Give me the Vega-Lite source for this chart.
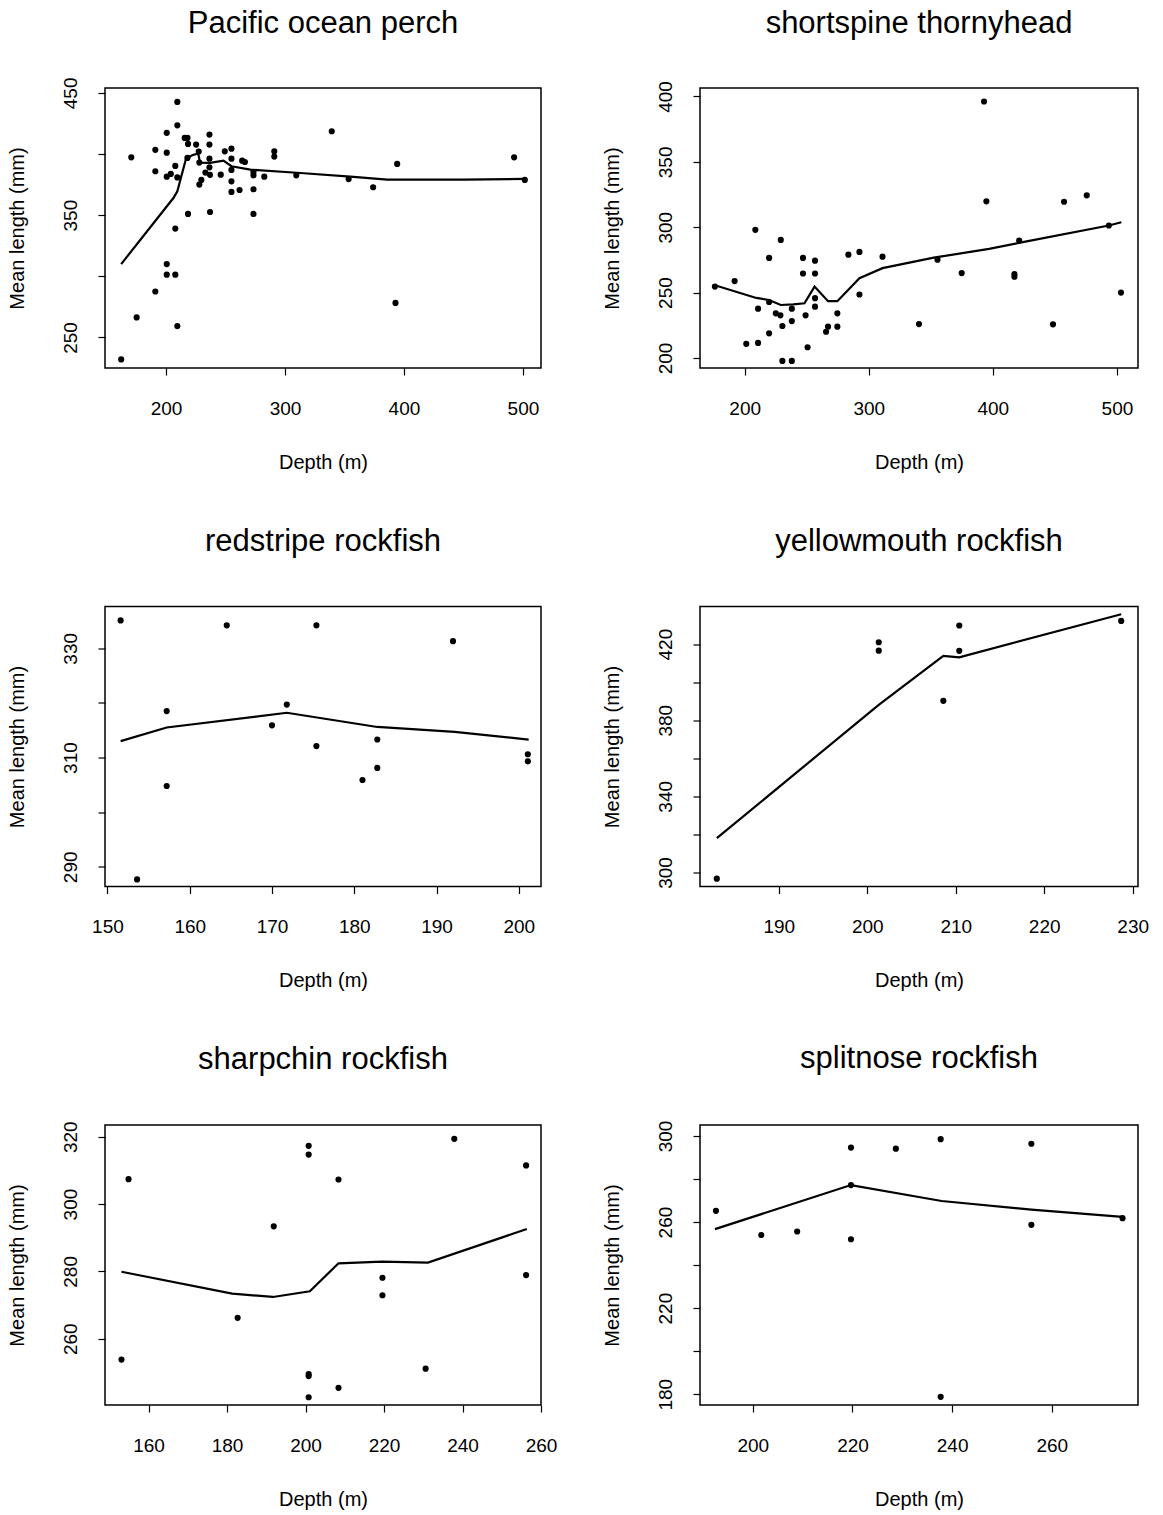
{
  "$schema": "https://vega.github.io/schema/vega-lite/v6.json",
  "background": "white",
  "padding": {"left": 6, "top": 6, "right": 5, "bottom": 5},
  "bounds": "flush",
  "columns": 2,
  "spacing": {"row": 238.5, "column": 159},
  "datasets": {
    "pts": [
      {"s": "POP", "d": 209.5, "L": 442.6}, {"s": "POP", "d": 209.5, "L": 423.5}, {"s": "POP", "d": 200.6, "L": 417.3},
      {"s": "POP", "d": 236.5, "L": 415.9}, {"s": "POP", "d": 215.7, "L": 413.2}, {"s": "POP", "d": 218, "L": 413.2},
      {"s": "POP", "d": 339.3, "L": 418.6}, {"s": "POP", "d": 170.8, "L": 397.3}, {"s": "POP", "d": 191, "L": 403.4},
      {"s": "POP", "d": 200.6, "L": 401.1}, {"s": "POP", "d": 218.5, "L": 408.3}, {"s": "POP", "d": 225.3, "L": 407.7},
      {"s": "POP", "d": 227.5, "L": 402}, {"s": "POP", "d": 236.5, "L": 407.7}, {"s": "POP", "d": 228, "L": 393},
      {"s": "POP", "d": 236.5, "L": 396.2}, {"s": "POP", "d": 249.4, "L": 402.2}, {"s": "POP", "d": 255, "L": 404.4},
      {"s": "POP", "d": 255, "L": 396.2}, {"s": "POP", "d": 264, "L": 394.6}, {"s": "POP", "d": 266.3, "L": 393.5},
      {"s": "POP", "d": 207.8, "L": 390.3}, {"s": "POP", "d": 191, "L": 385.9}, {"s": "POP", "d": 200.6, "L": 381.5},
      {"s": "POP", "d": 204, "L": 383.7}, {"s": "POP", "d": 209.5, "L": 380.9}, {"s": "POP", "d": 218, "L": 396.8},
      {"s": "POP", "d": 236.5, "L": 389.1}, {"s": "POP", "d": 233.1, "L": 384.8}, {"s": "POP", "d": 237, "L": 383},
      {"s": "POP", "d": 246, "L": 383.1}, {"s": "POP", "d": 228, "L": 375}, {"s": "POP", "d": 229.7, "L": 378.8},
      {"s": "POP", "d": 255, "L": 387}, {"s": "POP", "d": 255, "L": 377.7}, {"s": "POP", "d": 255, "L": 369},
      {"s": "POP", "d": 261.8, "L": 370.6}, {"s": "POP", "d": 273.5, "L": 385.3}, {"s": "POP", "d": 273.5, "L": 382.6},
      {"s": "POP", "d": 273.5, "L": 371.2}, {"s": "POP", "d": 282.6, "L": 381.5}, {"s": "POP", "d": 291, "L": 402.2},
      {"s": "POP", "d": 291, "L": 397.9}, {"s": "POP", "d": 309.5, "L": 382.6}, {"s": "POP", "d": 353.5, "L": 379.5},
      {"s": "POP", "d": 218.5, "L": 351}, {"s": "POP", "d": 237, "L": 352.6}, {"s": "POP", "d": 273.5, "L": 351},
      {"s": "POP", "d": 207.8, "L": 339}, {"s": "POP", "d": 200.6, "L": 310}, {"s": "POP", "d": 200.6, "L": 301.3},
      {"s": "POP", "d": 207.8, "L": 301.3}, {"s": "POP", "d": 191, "L": 287.6}, {"s": "POP", "d": 175.3, "L": 266.4},
      {"s": "POP", "d": 209.5, "L": 259.3}, {"s": "POP", "d": 162.3, "L": 232}, {"s": "POP", "d": 374.1, "L": 372.8},
      {"s": "POP", "d": 394.3, "L": 391.9}, {"s": "POP", "d": 392.9, "L": 278.2}, {"s": "POP", "d": 492.6, "L": 397.3},
      {"s": "POP", "d": 501.6, "L": 378.8},

      {"s": "SST", "d": 176, "L": 254.6}, {"s": "SST", "d": 191.9, "L": 258.8}, {"s": "SST", "d": 208.6, "L": 298},
      {"s": "SST", "d": 229.1, "L": 290.3}, {"s": "SST", "d": 219.7, "L": 276.5}, {"s": "SST", "d": 247, "L": 276.5},
      {"s": "SST", "d": 256.7, "L": 274.4}, {"s": "SST", "d": 247, "L": 264.6}, {"s": "SST", "d": 256.7, "L": 264.6},
      {"s": "SST", "d": 283.6, "L": 279}, {"s": "SST", "d": 292.5, "L": 281.1}, {"s": "SST", "d": 311.1, "L": 277.5},
      {"s": "SST", "d": 292.5, "L": 248.5}, {"s": "SST", "d": 219.7, "L": 242.8}, {"s": "SST", "d": 256.7, "L": 245.7},
      {"s": "SST", "d": 256.7, "L": 239.2}, {"s": "SST", "d": 210.8, "L": 237.7}, {"s": "SST", "d": 238, "L": 237.7},
      {"s": "SST", "d": 225.1, "L": 234.1}, {"s": "SST", "d": 228.8, "L": 232.6}, {"s": "SST", "d": 249.1, "L": 232.6},
      {"s": "SST", "d": 274.7, "L": 234.1}, {"s": "SST", "d": 238, "L": 228.2}, {"s": "SST", "d": 230.4, "L": 224.4},
      {"s": "SST", "d": 274.7, "L": 223.9}, {"s": "SST", "d": 267.2, "L": 223.9}, {"s": "SST", "d": 265.6, "L": 220},
      {"s": "SST", "d": 219.7, "L": 218.8}, {"s": "SST", "d": 201.3, "L": 210.8}, {"s": "SST", "d": 210.8, "L": 211.5},
      {"s": "SST", "d": 250.7, "L": 208.2}, {"s": "SST", "d": 230.4, "L": 197.7}, {"s": "SST", "d": 238, "L": 197.7},
      {"s": "SST", "d": 340.5, "L": 225.9}, {"s": "SST", "d": 392.9, "L": 396.2}, {"s": "SST", "d": 394.8, "L": 319.8},
      {"s": "SST", "d": 457.4, "L": 319.5}, {"s": "SST", "d": 475.7, "L": 324.4}, {"s": "SST", "d": 493.5, "L": 301.3},
      {"s": "SST", "d": 421.2, "L": 289.8}, {"s": "SST", "d": 355.4, "L": 275.2}, {"s": "SST", "d": 374.9, "L": 264.9},
      {"s": "SST", "d": 417.4, "L": 264.1}, {"s": "SST", "d": 417.4, "L": 262.1}, {"s": "SST", "d": 503.3, "L": 250},
      {"s": "SST", "d": 448.5, "L": 225.7},

      {"s": "RS", "d": 151.6, "L": 335.1}, {"s": "RS", "d": 153.6, "L": 287.7}, {"s": "RS", "d": 157.2, "L": 318.5},
      {"s": "RS", "d": 157.2, "L": 304.8}, {"s": "RS", "d": 164.5, "L": 334.2}, {"s": "RS", "d": 170, "L": 315.9},
      {"s": "RS", "d": 171.8, "L": 319.7}, {"s": "RS", "d": 175.4, "L": 334.2}, {"s": "RS", "d": 175.4, "L": 312.1},
      {"s": "RS", "d": 181, "L": 305.9}, {"s": "RS", "d": 182.8, "L": 313.3}, {"s": "RS", "d": 182.8, "L": 308.1},
      {"s": "RS", "d": 192, "L": 331.3}, {"s": "RS", "d": 201.1, "L": 310.6}, {"s": "RS", "d": 201.1, "L": 309.3},

      {"s": "YM", "d": 183, "L": 296.7}, {"s": "YM", "d": 201.3, "L": 421}, {"s": "YM", "d": 201.3, "L": 416.6},
      {"s": "YM", "d": 208.6, "L": 390.2}, {"s": "YM", "d": 210.4, "L": 429.8}, {"s": "YM", "d": 210.4, "L": 416.5},
      {"s": "YM", "d": 228.7, "L": 432.2},

      {"s": "SC", "d": 153.1, "L": 253.8}, {"s": "SC", "d": 154.9, "L": 307.4}, {"s": "SC", "d": 182.7, "L": 266.2},
      {"s": "SC", "d": 191.9, "L": 293.4}, {"s": "SC", "d": 200.8, "L": 317.3}, {"s": "SC", "d": 200.8, "L": 314.7},
      {"s": "SC", "d": 200.8, "L": 249.5}, {"s": "SC", "d": 200.8, "L": 248.9}, {"s": "SC", "d": 200.8, "L": 242.6},
      {"s": "SC", "d": 208.4, "L": 307.3}, {"s": "SC", "d": 208.4, "L": 245.4}, {"s": "SC", "d": 219.6, "L": 278.1},
      {"s": "SC", "d": 219.6, "L": 272.9}, {"s": "SC", "d": 230.6, "L": 251.1}, {"s": "SC", "d": 237.9, "L": 319.4},
      {"s": "SC", "d": 256.2, "L": 311.5}, {"s": "SC", "d": 256.2, "L": 278.9},

      {"s": "SN", "d": 192.6, "L": 265.2}, {"s": "SN", "d": 201.7, "L": 254}, {"s": "SN", "d": 208.9, "L": 255.6},
      {"s": "SN", "d": 219.7, "L": 294.6}, {"s": "SN", "d": 219.7, "L": 252}, {"s": "SN", "d": 219.7, "L": 277.2},
      {"s": "SN", "d": 228.7, "L": 294.1}, {"s": "SN", "d": 237.7, "L": 298.5}, {"s": "SN", "d": 237.7, "L": 178.8},
      {"s": "SN", "d": 255.9, "L": 296.4}, {"s": "SN", "d": 255.9, "L": 258.7}, {"s": "SN", "d": 274.2, "L": 261.8}
    ],
    "fit": [
      {"s": "POP", "d": 162.3, "L": 310}, {"s": "POP", "d": 206.2, "L": 364}, {"s": "POP", "d": 209.5, "L": 369.5},
      {"s": "POP", "d": 216.8, "L": 396.2}, {"s": "POP", "d": 222, "L": 399}, {"s": "POP", "d": 227, "L": 400.5},
      {"s": "POP", "d": 228.6, "L": 393}, {"s": "POP", "d": 237, "L": 392.7}, {"s": "POP", "d": 248.3, "L": 394.6},
      {"s": "POP", "d": 255, "L": 390}, {"s": "POP", "d": 270.8, "L": 387.2}, {"s": "POP", "d": 312.9, "L": 384.5},
      {"s": "POP", "d": 355, "L": 381.5}, {"s": "POP", "d": 385.9, "L": 379}, {"s": "POP", "d": 450, "L": 379},
      {"s": "POP", "d": 501.6, "L": 379.6},

      {"s": "SST", "d": 176, "L": 255.6}, {"s": "SST", "d": 209.4, "L": 245.9}, {"s": "SST", "d": 219.7, "L": 244.3},
      {"s": "SST", "d": 229.1, "L": 240.5}, {"s": "SST", "d": 239.1, "L": 241}, {"s": "SST", "d": 248.2, "L": 241.8},
      {"s": "SST", "d": 256.3, "L": 254.6}, {"s": "SST", "d": 267.2, "L": 243.4}, {"s": "SST", "d": 274.7, "L": 243.4},
      {"s": "SST", "d": 292.5, "L": 261}, {"s": "SST", "d": 311.1, "L": 268.7}, {"s": "SST", "d": 352.4, "L": 276.7},
      {"s": "SST", "d": 397, "L": 283.4}, {"s": "SST", "d": 421, "L": 288}, {"s": "SST", "d": 493.5, "L": 301.3},
      {"s": "SST", "d": 503.6, "L": 303.8},

      {"s": "RS", "d": 151.6, "L": 313}, {"s": "RS", "d": 157.2, "L": 315.5}, {"s": "RS", "d": 171.8, "L": 318.2},
      {"s": "RS", "d": 182.8, "L": 315.6}, {"s": "RS", "d": 192.2, "L": 314.7}, {"s": "RS", "d": 201.2, "L": 313.3},

      {"s": "YM", "d": 183, "L": 318}, {"s": "YM", "d": 201.3, "L": 388.1}, {"s": "YM", "d": 208.6, "L": 413.8},
      {"s": "YM", "d": 210.4, "L": 413.1}, {"s": "YM", "d": 228.7, "L": 435.7},

      {"s": "SC", "d": 153.1, "L": 279.9}, {"s": "SC", "d": 181.3, "L": 273.4}, {"s": "SC", "d": 191.7, "L": 272.4},
      {"s": "SC", "d": 201.1, "L": 274.1}, {"s": "SC", "d": 208.4, "L": 282.4}, {"s": "SC", "d": 219.5, "L": 282.9},
      {"s": "SC", "d": 231.2, "L": 282.6}, {"s": "SC", "d": 256.4, "L": 292.6},

      {"s": "SN", "d": 192.4, "L": 256.7}, {"s": "SN", "d": 219.7, "L": 277.2}, {"s": "SN", "d": 237.9, "L": 269.8},
      {"s": "SN", "d": 255.9, "L": 265.8}, {"s": "SN", "d": 274.2, "L": 262.4}
    ]
  },
  "concat": [
    {
      "title": {"text": "Pacific ocean perch", "offset": 37},
      "width": 436, "height": 280,
      "encoding": {
        "x": {"field": "d", "type": "quantitative", "scale": {"domain": [148.7, 515.2], "nice": false, "zero": false}, "axis": {"title": "Depth (m)", "values": [200, 300, 400, 500]}},
        "y": {"field": "L", "type": "quantitative", "scale": {"domain": [225, 454], "nice": false, "zero": false}, "axis": {"title": "Mean length (mm)", "values": [250, 300, 350, 400, 450], "labelExpr": "datum.value % 100 == 50 ? datum.label : ''"}}
      },
      "layer": [
        {"data": {"name": "pts"}, "transform": [{"filter": "datum.s == 'POP'"}], "mark": {"type": "circle", "size": 38, "color": "black", "opacity": 1}},
        {"data": {"name": "fit"}, "transform": [{"filter": "datum.s == 'POP'"}], "mark": {"type": "line", "color": "black", "strokeWidth": 2.2}}
      ]
    },
    {
      "title": {"text": "shortspine thornyhead", "offset": 41},
      "width": 438, "height": 280,
      "encoding": {
        "x": {"field": "d", "type": "quantitative", "scale": {"domain": [164, 517], "nice": false, "zero": false}, "axis": {"title": "Depth (m)", "values": [200, 300, 400, 500]}},
        "y": {"field": "L", "type": "quantitative", "scale": {"domain": [192.3, 406.5], "nice": false, "zero": false}, "axis": {"title": "Mean length (mm)", "values": [200, 250, 300, 350, 400]}}
      },
      "layer": [
        {"data": {"name": "pts"}, "transform": [{"filter": "datum.s == 'SST'"}], "mark": {"type": "circle", "size": 38, "color": "black", "opacity": 1}},
        {"data": {"name": "fit"}, "transform": [{"filter": "datum.s == 'SST'"}], "mark": {"type": "line", "color": "black", "strokeWidth": 2.2}}
      ]
    },
    {
      "title": {"text": "redstripe rockfish", "offset": 49},
      "width": 436, "height": 280,
      "encoding": {
        "x": {"field": "d", "type": "quantitative", "scale": {"domain": [149.7, 202.7], "nice": false, "zero": false}, "axis": {"title": "Depth (m)", "values": [150, 160, 170, 180, 190, 200]}},
        "y": {"field": "L", "type": "quantitative", "scale": {"domain": [286.4, 337.65], "nice": false, "zero": false}, "axis": {"title": "Mean length (mm)", "values": [290, 300, 310, 320, 330], "labelExpr": "datum.value % 20 == 10 ? datum.label : ''"}}
      },
      "layer": [
        {"data": {"name": "pts"}, "transform": [{"filter": "datum.s == 'RS'"}], "mark": {"type": "circle", "size": 38, "color": "black", "opacity": 1}},
        {"data": {"name": "fit"}, "transform": [{"filter": "datum.s == 'RS'"}], "mark": {"type": "line", "color": "black", "strokeWidth": 2.2}}
      ]
    },
    {
      "title": {"text": "yellowmouth rockfish", "offset": 49},
      "width": 438, "height": 280,
      "encoding": {
        "x": {"field": "d", "type": "quantitative", "scale": {"domain": [181.1, 230.6], "nice": false, "zero": false}, "axis": {"title": "Depth (m)", "values": [190, 200, 210, 220, 230]}},
        "y": {"field": "L", "type": "quantitative", "scale": {"domain": [292.6, 439.8], "nice": false, "zero": false}, "axis": {"title": "Mean length (mm)", "values": [300, 320, 340, 360, 380, 400, 420], "labelExpr": "datum.value % 40 == 20 ? datum.label : ''"}}
      },
      "layer": [
        {"data": {"name": "pts"}, "transform": [{"filter": "datum.s == 'YM'"}], "mark": {"type": "circle", "size": 38, "color": "black", "opacity": 1}},
        {"data": {"name": "fit"}, "transform": [{"filter": "datum.s == 'YM'"}], "mark": {"type": "line", "color": "black", "strokeWidth": 2.2}}
      ]
    },
    {
      "title": {"text": "sharpchin rockfish", "offset": 45},
      "width": 436, "height": 280,
      "encoding": {
        "x": {"field": "d", "type": "quantitative", "scale": {"domain": [148.9, 260], "nice": false, "zero": false}, "axis": {"title": "Depth (m)", "values": [160, 180, 200, 220, 240, 260]}},
        "y": {"field": "L", "type": "quantitative", "scale": {"domain": [240.3, 323.5], "nice": false, "zero": false}, "axis": {"title": "Mean length (mm)", "values": [260, 280, 300, 320]}}
      },
      "layer": [
        {"data": {"name": "pts"}, "transform": [{"filter": "datum.s == 'SC'"}], "mark": {"type": "circle", "size": 38, "color": "black", "opacity": 1}},
        {"data": {"name": "fit"}, "transform": [{"filter": "datum.s == 'SC'"}], "mark": {"type": "line", "color": "black", "strokeWidth": 2.2}}
      ]
    },
    {
      "title": {"text": "splitnose rockfish", "offset": 45},
      "width": 438, "height": 280,
      "encoding": {
        "x": {"field": "d", "type": "quantitative", "scale": {"domain": [189.4, 277.3], "nice": false, "zero": false}, "axis": {"title": "Depth (m)", "values": [200, 220, 240, 260]}},
        "y": {"field": "L", "type": "quantitative", "scale": {"domain": [175, 305.1], "nice": false, "zero": false}, "axis": {"title": "Mean length (mm)", "values": [180, 200, 220, 240, 260, 280, 300], "labelExpr": "datum.value % 40 == 20 ? datum.label : ''"}}
      },
      "layer": [
        {"data": {"name": "pts"}, "transform": [{"filter": "datum.s == 'SN'"}], "mark": {"type": "circle", "size": 38, "color": "black", "opacity": 1}},
        {"data": {"name": "fit"}, "transform": [{"filter": "datum.s == 'SN'"}], "mark": {"type": "line", "color": "black", "strokeWidth": 2.2}}
      ]
    }
  ],
  "config": {
    "font": "Liberation Sans",
    "view": {"stroke": "black", "strokeWidth": 1.5},
    "axis": {
      "grid": false, "domain": false, "ticks": true, "tickColor": "black", "tickSize": 7, "tickWidth": 1.2,
      "labelFont": "Liberation Sans", "labelFontSize": 19, "labelColor": "black", "labelFlush": false, "labelOverlap": false,
      "titleFont": "Liberation Sans", "titleFontSize": 20, "titleFontWeight": "normal", "titleColor": "black"
    },
    "axisX": {"labelPadding": 24, "titlePadding": 34},
    "axisY": {"labelAngle": -90, "labelAlign": "center", "labelBaseline": "alphabetic", "labelPadding": 22, "titlePadding": 34},
    "title": {"fontSize": 31, "font": "Liberation Sans", "fontWeight": "normal", "color": "black", "frame": "group", "baseline": "alphabetic"}
  }
}
